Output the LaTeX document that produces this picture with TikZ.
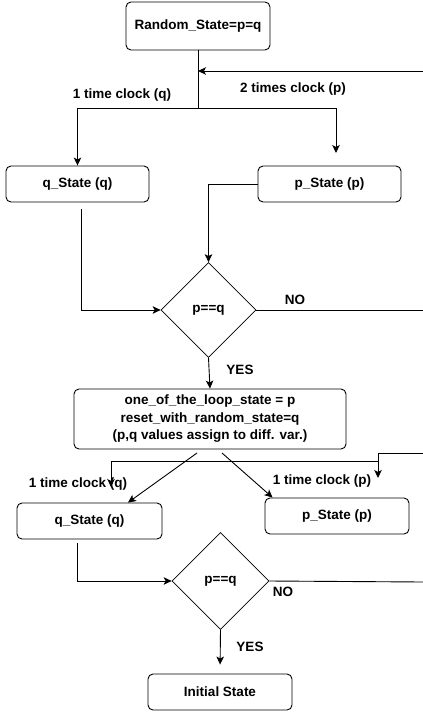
\documentclass[tikz,border=0pt]{standalone}
\usepackage{fontspec}
\setmainfont{Liberation Sans}
\usetikzlibrary{arrows.meta,positioning,calc,shapes.geometric}

\begin{document}
\begin{tikzpicture}[
  x=1pt, y=-1pt,
  font=\fontsize{13.5}{17.5}\selectfont\bfseries,
  blk/.style={draw, rounded corners=5pt, line width=.9pt, align=center,
              inner sep=0pt},
  dec/.style={draw, diamond, aspect=1, line width=.7pt, inner sep=0pt,
              minimum width=#1, minimum height=#1},
  flow/.style={-{Stealth[length=8pt,width=7.5pt,inset=2pt]}, line width=.9pt},
  line/.style={line width=.9pt},
  lbl/.style={inner sep=1pt},
]
\useasboundingbox (0,0) rectangle (423,713);

% ---------------- first round ----------------
\node[blk, minimum width=144pt, minimum height=48pt] (rand) at (198,26)
  {Random\_State=p=q};
\node[blk, minimum width=143pt, minimum height=36pt] (qst) at (77.5,184)
  {q\_State (q)};
\node[blk, minimum width=143pt, minimum height=36pt] (pst) at (329.5,184)
  {p\_State (p)};
\node[dec=95pt] (chk) at (208.5,310) {p==q};

\coordinate (split) at (198,108);
\coordinate (back1) at (423,71);
\coordinate (ptip) at (336,153);
\coordinate (qout) at (81,209);
\coordinate (no1) at (423,310);

\draw[line] (rand) -- (split);
\draw[flow] (back1) -- (rand.south |- back1);
\draw[flow] (split) -| (qst.north);
\draw[flow] (split) -| (ptip);
\draw[flow] (qout) |- (chk.west);
\draw[flow] (pst.west) -| (chk.north);
\draw[line] (chk.east) -- (no1);

\node[lbl] at (122,95) {1 time clock (q)};
\node[lbl] at (293,89) {2 times clock (p)};
\node[lbl] at (295,300) {NO};
\node[lbl] at (240,370) {YES};

% ---------------- second round ----------------
\node[blk, minimum width=272pt, minimum height=60pt] (mid) at (210,419)
  {one\_of\_the\_loop\_state = p\\
   reset\_with\_random\_state=q\\
   (p,q values assign to diff. var.)};
\draw[flow] (chk.south) -- (mid.north);

\node[blk, minimum width=145pt, minimum height=36pt] (qst2) at (89.5,521)
  {q\_State (q)};
\node[blk, minimum width=144pt, minimum height=36pt] (pst2) at (337,516)
  {p\_State (p)};
\node[dec=97pt] (chk2) at (220.5,581) {p==q};
\node[blk, minimum width=144pt, minimum height=36pt] (init) at (220,692)
  {Initial State};

\coordinate (m1) at (197,453);
\coordinate (m2) at (222,453);
\coordinate (back2) at (423,453);
\coordinate (ptip2) at (378,478);
\coordinate (tap) at (378,461);
\coordinate (qtip2) at (111,487);
\coordinate (qout2) at (77,543);
\coordinate (no2) at (423,582);

\draw[flow] (m1) -- ($(qst2.north)+(38.5,0)$);
\draw[flow] (m2) -- ($(pst2.north west)+(8,0)$);
\draw[flow] (back2) -| (ptip2);
\draw[flow] (tap) -| (qtip2);
\draw[flow] (qout2) |- (chk2.west);
\draw[line] (chk2.east) -- (no2);
\draw[flow, shorten >=9pt] (chk2.south) -- (init.north);

\node[lbl] at (78,484) {1 time clock (q)};
\node[lbl] at (322,481) {1 time clock (p)};
\node[lbl] at (283,592) {NO};
\node[lbl] at (250,647) {YES};

\end{tikzpicture}
\end{document}
